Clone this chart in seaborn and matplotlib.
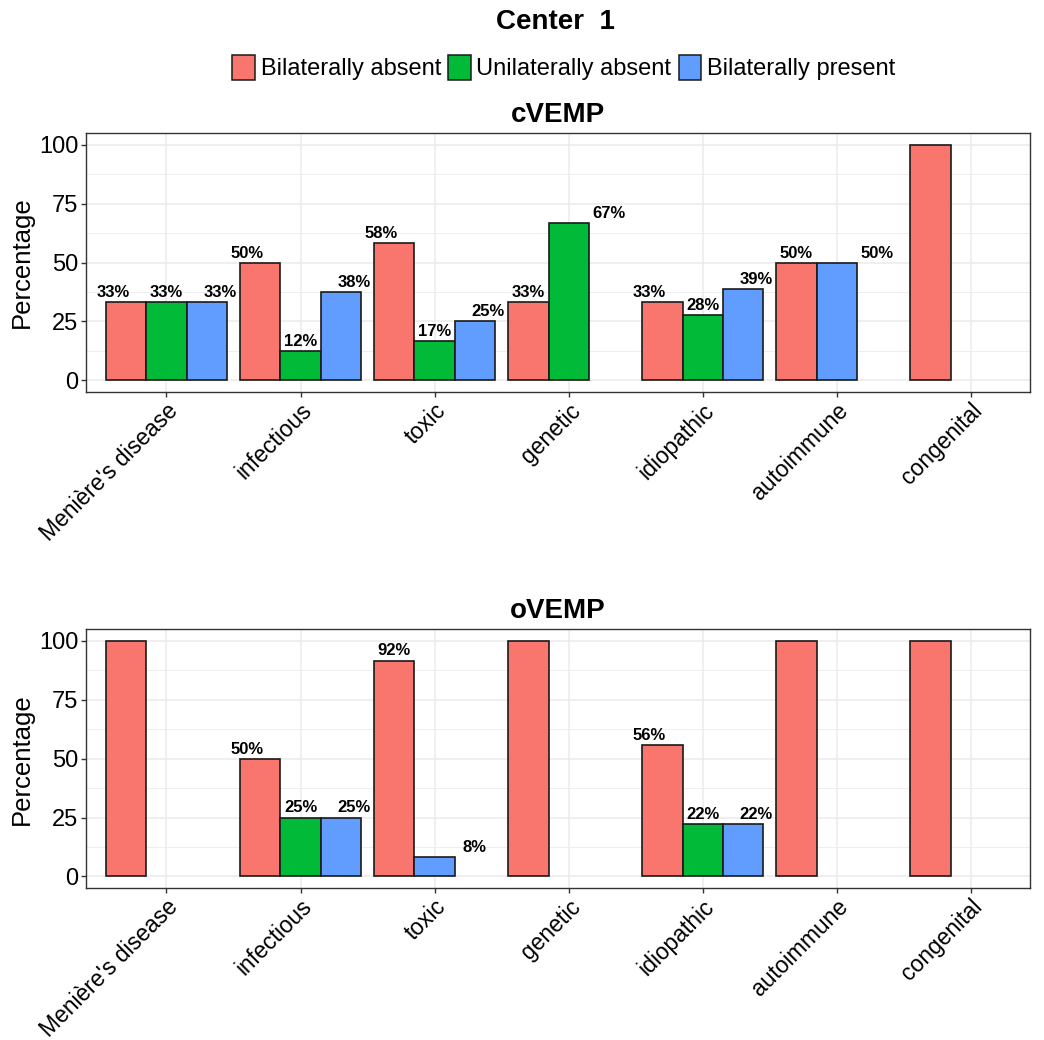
import matplotlib
matplotlib.use("Agg")
import matplotlib.pyplot as plt
from matplotlib.patches import Patch
from matplotlib.ticker import MultipleLocator
import numpy as np
import pandas as pd
import seaborn as sns

nan = np.nan

causes = ["Menière's disease", "infectious", "toxic", "genetic",
          "idiopathic", "autoimmune", "congenital"]
statuses = ["Bilaterally absent", "Unilaterally absent", "Bilaterally present"]
colors = ["#F8766D", "#00BA38", "#619CFF"]

# cVEMP (percent of patients per cause)
cvemp_bil_absent = [33.3, 50.0, 58.3, 33.3, 33.3, 50.0, 100.0]
cvemp_uni_absent = [33.3, 12.5, 16.7, 66.7, 27.8, nan, nan]
cvemp_bil_present = [33.3, 37.5, 25.0, nan, 38.9, 50.0, nan]

# oVEMP
ovemp_bil_absent = [100.0, 50.0, 91.7, 100.0, 55.6, 100.0, 100.0]
ovemp_uni_absent = [nan, 25.0, nan, nan, 22.2, nan, nan]
ovemp_bil_present = [nan, 25.0, 8.3, nan, 22.2, nan, nan]


def to_long(series):
    rows = []
    for status, vals in zip(statuses, series):
        for cause, v in zip(causes, vals):
            rows.append({"cause": cause, "status": status, "pct": v})
    df = pd.DataFrame(rows).dropna()
    df["cause"] = pd.Categorical(df["cause"], causes, ordered=True)
    df["status"] = pd.Categorical(df["status"], statuses, ordered=True)
    return df.sort_values(["cause", "status"])


cvemp = to_long([cvemp_bil_absent, cvemp_uni_absent, cvemp_bil_present])
ovemp = to_long([ovemp_bil_absent, ovemp_uni_absent, ovemp_bil_present])

sns.set_theme(style="whitegrid")
plt.rcParams['font.family'] = ['Liberation Sans', 'DejaVu Sans']
plt.rcParams['text.color'] = 'black'
plt.rcParams['axes.labelcolor'] = 'black'
palette = dict(zip(statuses, colors))


def draw_panel(ax, df, title):
    for i, cause in enumerate(causes):
        sub = df[df["cause"] == cause]
        n = len(sub)
        for j, (_, row) in enumerate(sub.iterrows()):
            # bars fill the slots from the left (like ggplot dodge, preserve="single")
            bx = i - 0.45 + 0.3 * j + 0.15
            ax.bar(bx, row["pct"], width=0.3, color=palette[row["status"]],
                   edgecolor="#1a1a1a", linewidth=1.2, zorder=3)
            # labels dodged among the present rows only
            lx = i + (j - (n - 1) / 2) * 1.2 / n
            if row["pct"] < 100:
                ax.annotate(f"{round(row['pct'])}%", (lx, row["pct"]), xytext=(0, 1.5),
                            textcoords="offset points", ha="center", va="bottom",
                            fontsize=12, fontweight="bold", zorder=4)

    ax.set_xlim(-0.6, 6.44)
    ax.set_ylim(-5, 105)
    ax.set_xticks(range(len(causes)))
    ax.set_xticklabels(causes, rotation=45, ha="right", va="top",
                       rotation_mode="anchor", fontsize=16.5, color="black")
    ax.yaxis.set_major_locator(MultipleLocator(25))
    ax.yaxis.set_minor_locator(MultipleLocator(12.5))
    ax.tick_params(axis="y", labelsize=17, labelcolor="black")
    ax.tick_params(axis="both", which="major", length=3.5, width=1, color="#333333",
                   bottom=True, left=True, pad=2)
    ax.tick_params(axis="x", pad=1.5)
    ax.tick_params(axis="y", which="minor", length=0)
    ax.grid(True, which="major", color="#EBEBEB", linewidth=1.1, zorder=0)
    ax.grid(True, which="minor", axis="y", color="#EBEBEB", linewidth=0.6, zorder=0)
    ax.set_axisbelow(True)
    for s in ax.spines.values():
        s.set_color("#333333")
        s.set_linewidth(1)
    ax.set_xlabel("")
    ax.set_ylabel("Percentage", fontsize=18.5, labelpad=4)
    ax.set_title(title, fontsize=20, fontweight="bold", pad=8)


fig = plt.figure(figsize=(10.44, 10.40), dpi=100)
ax1 = fig.add_axes([0.0824, 0.623, 0.904, 0.249])
ax2 = fig.add_axes([0.0824, 0.146, 0.904, 0.249])

draw_panel(ax1, cvemp, "cVEMP")
draw_panel(ax2, ovemp, "oVEMP")

fig.text(0.532, 0.979, "Center  1", ha="center", va="center",
         fontsize=20, fontweight="bold")

handles = [Patch(facecolor=c, edgecolor="#1a1a1a", linewidth=1.1) for c in colors]
fig.legend(handles, statuses, loc="center", bbox_to_anchor=(0.54, 0.935), ncol=3,
           frameon=False, fontsize=17, handlelength=0.95, handleheight=1.3,
           handletextpad=0.25, columnspacing=0.3, borderaxespad=0)

fig.savefig("out.png", dpi=100)
